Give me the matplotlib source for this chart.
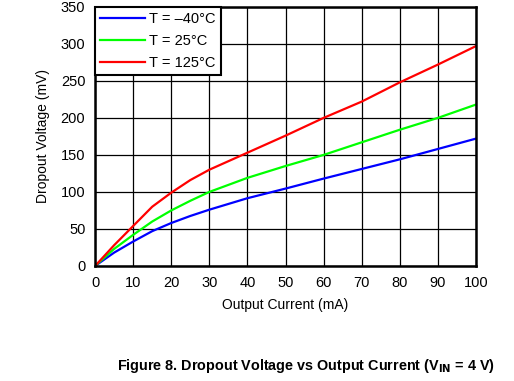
import matplotlib.pyplot as plt

plt.rcParams['font.family'] = ['Liberation Sans', 'DejaVu Sans']

current = [0, 5, 10, 15, 20, 25, 30, 40, 50, 60, 70, 80, 90, 100]
v_m40 = [0, 18, 33, 47, 58, 67.5, 76, 91.5, 104.5, 118, 131, 144, 158, 172]
v_25 = [0, 23, 42, 60, 75, 88, 100, 119, 135, 150, 167, 184, 200, 218]
v_125 = [0, 28, 54, 80, 99, 116, 130, 153, 176, 200, 222, 248, 272, 297]
labels = ['T = \u201340\u00b0C', 'T = 25\u00b0C', 'T = 125\u00b0C']
colors = ['#0000ff', '#00ff00', '#ff0000']

fig = plt.figure(figsize=(5.14, 3.81), dpi=100)
ax = fig.add_axes([0.185, 0.302, 0.741, 0.680])

for y, lab, c in zip([v_m40, v_25, v_125], labels, colors):
    ax.plot(current, y, color=c, lw=1.6, label=lab)

ax.set_xlim(0, 100)
ax.set_ylim(0, 350)
ax.set_xticks(range(0, 101, 10))
ax.set_yticks(range(0, 351, 50))
ax.grid(True, color='black', lw=0.9)
ax.set_axisbelow(True)
ax.tick_params(length=0, labelsize=10.5, pad=7)
for sp in ax.spines.values():
    sp.set_linewidth(1.8)

ax.set_xlabel('Output Current (mA)', fontsize=10, labelpad=6)
ax.set_ylabel('Dropout Voltage (mV)', fontsize=10, labelpad=8)

leg = ax.legend(loc='upper left', fontsize=10.5, frameon=True, fancybox=False,
                borderaxespad=0, handlelength=3.1, handletextpad=0.25,
                labelspacing=0.55, borderpad=0.35)
leg.get_frame().set_edgecolor('black')
leg.get_frame().set_linewidth(1.5)
leg.get_frame().set_alpha(1)

fig.text(0.595, 0.04, 'Figure 8. Dropout Voltage vs Output Current (V$_{\\mathbf{IN}}$ = 4 V)',
         ha='center', va='center', fontsize=10.4, fontweight='bold')

fig.savefig('out.png', dpi=100)
